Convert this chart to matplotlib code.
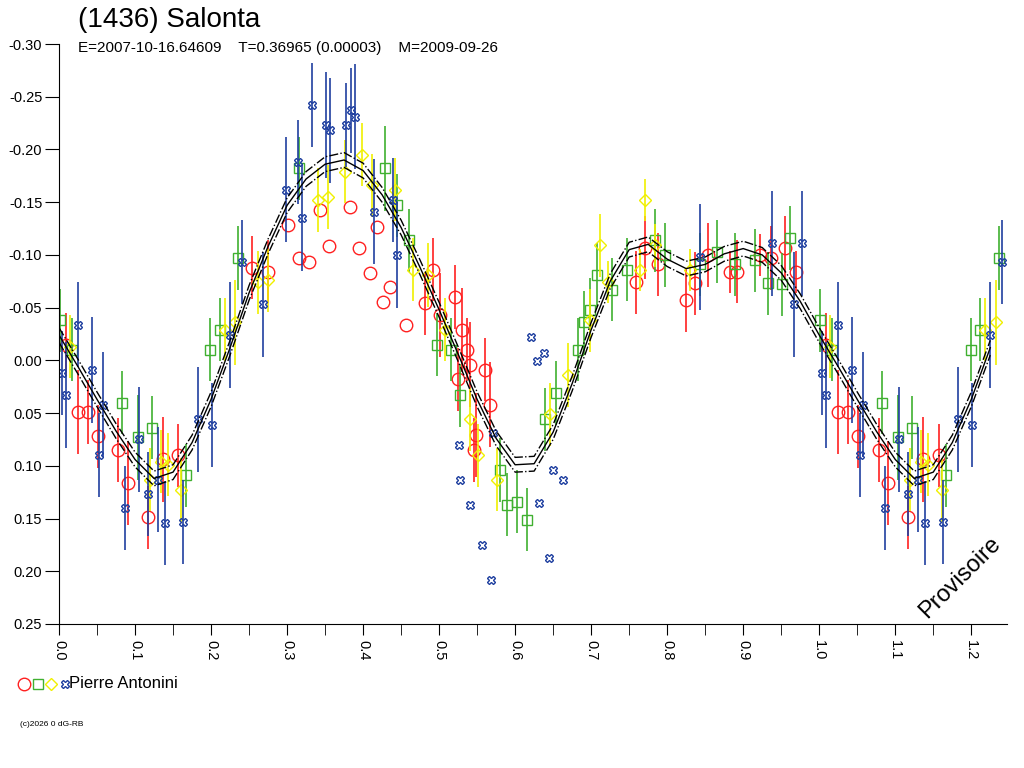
import matplotlib
matplotlib.use("Agg")
import matplotlib.pyplot as plt
import numpy as np

plt.rcParams['font.family'] = ['Liberation Sans', 'DejaVu Sans']

# fitted light curve (phase 0..1, step 0.025) and its uncertainty band
fit_phase = [i * 0.025 for i in range(41)]
fit_mag = [-0.024, 0.006, 0.037, 0.067, 0.094, 0.112, 0.106, 0.078, 0.037, -0.012,
           -0.064, -0.108, -0.147, -0.172, -0.186, -0.190, -0.180, -0.157, -0.126, -0.088,
           -0.048, -0.006, 0.037, 0.074, 0.099, 0.098, 0.068, 0.022, -0.029, -0.075,
           -0.105, -0.110, -0.096, -0.087, -0.091, -0.101, -0.106, -0.100, -0.083, -0.056,
           -0.024]
fit_band = 0.007

# observations (phase, magnitude, error) per session
red_ph = [0.009, 0.025, 0.038, 0.051, 0.078, 0.091, 0.117, 0.137, 0.157, 0.254, 0.275,
          0.301, 0.316, 0.329, 0.343, 0.355, 0.383, 0.395, 0.409, 0.418, 0.426, 0.436, 0.457,
          0.482, 0.492, 0.501, 0.521, 0.530, 0.537, 0.541, 0.525, 0.549, 0.561, 0.567, 0.546,
          0.759, 0.771, 0.788, 0.825, 0.837, 0.854, 0.883, 0.892, 0.922, 0.936, 0.955, 0.970]
red_mag = [-0.015, 0.049, 0.049, 0.072, 0.085, 0.116, 0.149, 0.094, 0.090, -0.088, -0.084,
           -0.128, -0.097, -0.093, -0.143, -0.108, -0.145, -0.107, -0.083, -0.126, -0.055, -0.070, -0.034,
           -0.054, -0.086, -0.043, -0.060, -0.029, -0.010, 0.004, 0.018, 0.071, 0.009, 0.042, 0.085,
           -0.074, -0.107, -0.091, -0.057, -0.073, -0.100, -0.084, -0.084, -0.100, -0.097, -0.107, -0.084]
red_err = [0.03, 0.04, 0.03, 0.03, 0.03, 0.04, 0.03, 0.04, 0.03, 0.03, 0.03,
           0, 0, 0, 0, 0, 0, 0, 0, 0, 0, 0, 0,
           0.03, 0.03, 0.04, 0.03, 0.04, 0.03, 0.04, 0.03, 0.04, 0.03, 0.04, 0.03,
           0.03, 0.03, 0.03, 0.03, 0.03, 0.03, 0.02, 0.03, 0.02, 0.03, 0.03, 0.02]

green_ph = [0.001, 0.017, 0.083, 0.104, 0.122, 0.167, 0.199, 0.212, 0.236, 0.316, 0.429, 0.445,
            0.461, 0.497, 0.516, 0.527, 0.580, 0.589, 0.603, 0.616, 0.639, 0.654, 0.683, 0.691,
            0.699, 0.708, 0.728, 0.747, 0.784, 0.797, 0.843, 0.866, 0.889, 0.916, 0.951, 0.933, 0.962]
green_mag = [-0.038, -0.010, 0.040, 0.073, 0.064, 0.109, -0.010, -0.029, -0.097, -0.182, -0.182, -0.147,
             -0.114, -0.015, -0.010, 0.033, 0.104, 0.137, 0.134, 0.151, 0.056, 0.031, -0.010, -0.036,
             -0.048, -0.081, -0.067, -0.086, -0.114, -0.100, -0.091, -0.103, -0.091, -0.095, -0.072, -0.073, -0.116]
green_err = [0.03, 0.03, 0.03, 0.04, 0.03, 0.03, 0.03, 0.03, 0.03, 0.03, 0.04, 0.03,
             0.03, 0.03, 0.03, 0.03, 0.03, 0.03, 0.03, 0.03, 0.03, 0.03, 0.03, 0.03,
             0.03, 0.03, 0.03, 0.03, 0.03, 0.03, 0.03, 0.03, 0.03, 0.03, 0.03, 0.03, 0.03]

yellow_ph = [0.014, 0.120, 0.134, 0.143, 0.161, 0.218, 0.232, 0.262, 0.275, 0.341, 0.354, 0.376,
             0.399, 0.412, 0.442, 0.466, 0.486, 0.508, 0.541, 0.551, 0.576, 0.646, 0.670, 0.699,
             0.712, 0.722, 0.764, 0.771, 0.784, 0.830]
yellow_mag = [-0.013, 0.113, 0.096, 0.099, 0.123, -0.029, -0.036, -0.074, -0.076, -0.152, -0.155, -0.179,
              -0.195, -0.166, -0.162, -0.086, -0.081, -0.029, 0.056, 0.090, 0.113, 0.051, 0.014, -0.038,
              -0.109, -0.074, -0.086, -0.152, -0.109, -0.086]
yellow_err = [0.03, 0.03, 0.03, 0.03, 0.03, 0.03, 0.04, 0.03, 0.03, 0.03, 0.03, 0.03,
              0.03, 0.03, 0.03, 0.03, 0.03, 0.03, 0.03, 0.03, 0.03, 0.03, 0.03, 0.03,
              0.03, 0.02, 0.02, 0.02, 0.02, 0.02]

blue_ph = [0.004, 0.009, 0.025, 0.043, 0.053, 0.058, 0.087, 0.105, 0.117, 0.130, 0.139, 0.163,
           0.183, 0.201, 0.225, 0.241, 0.268, 0.299, 0.314, 0.320, 0.333, 0.351, 0.357, 0.378,
           0.384, 0.389, 0.414, 0.439, 0.445, 0.526, 0.527, 0.541, 0.557, 0.568, 0.571, 0.621,
           0.629, 0.638, 0.632, 0.650, 0.645, 0.663, 0.843, 0.938, 0.967, 0.978]
blue_mag = [0.012, 0.033, -0.034, 0.009, 0.090, 0.042, 0.140, 0.075, 0.127, 0.113, 0.154, 0.153,
            0.056, 0.061, -0.024, -0.093, -0.053, -0.162, -0.188, -0.135, -0.242, -0.223, -0.218, -0.223,
            -0.237, -0.231, -0.141, -0.152, -0.100, 0.080, 0.113, 0.137, 0.175, 0.208, 0.069, -0.022,
            0.001, -0.007, 0.135, 0.104, 0.187, 0.113, -0.098, -0.111, -0.053, -0.111]
blue_err = [0.04, 0.05, 0.04, 0.05, 0.04, 0.05, 0.04, 0.05, 0.04, 0.05, 0.04, 0.04,
            0.05, 0.04, 0.05, 0.04, 0.05, 0.05, 0.04, 0.05, 0.04, 0.05, 0.05, 0.04,
            0.04, 0.05, 0.05, 0.04, 0.05, 0, 0, 0, 0, 0, 0, 0,
            0, 0, 0, 0, 0, 0, 0.05, 0.05, 0.05, 0.05]

x_max = 1.247


def repeat(ph, mag, err=None):
    # data below phase x_max-1 is shown again after phase 1.0
    ph = np.array(ph)
    mag = np.array(mag)
    extra = ph < x_max - 1
    ph2 = np.concatenate([ph, ph[extra] + 1])
    mag2 = np.concatenate([mag, mag[extra]])
    if err is None:
        return ph2, mag2
    err = np.array(err)
    return ph2, mag2, np.concatenate([err, err[extra]])


fig = plt.figure(figsize=(10.24, 7.68), dpi=100)
ax = fig.add_axes([59 / 1024, 1 - 624 / 768, (1007 - 59) / 1024, 580 / 768])

series = [
    (red_ph, red_mag, red_err, 'o', '#ff2020', 9),
    (green_ph, green_mag, green_err, 's', '#40b030', 7),
    (yellow_ph, yellow_mag, yellow_err, 'D', '#f0f000', 6),
    (blue_ph, blue_mag, blue_err, 'X', '#2040a0', 6),
]
for ph, mag, err, mk, col, ms in series:
    p, m, e = repeat(ph, mag, err)
    ax.vlines(p, m - e, m + e, color=col, lw=1.2)
    ax.plot(p, m, mk, ms=ms, mfc='none', mec=col, mew=1, ls='none')

fp, fm = repeat(fit_phase[:-1], fit_mag[:-1])
order = np.argsort(fp)
fp, fm = fp[order], fm[order]
ax.plot(fp, fm, color='black', lw=1)
ax.plot(fp, fm - fit_band, color='black', lw=1, ls='-.')
ax.plot(fp, fm + fit_band, color='black', lw=1, ls='-.')

ax.set_xlim(0, x_max)
ax.set_ylim(0.25, -0.30)
for s in ['top', 'right']:
    ax.spines[s].set_visible(False)
yt = np.arange(-0.30, 0.2501, 0.05)
ax.set_yticks(yt)
ax.set_yticklabels(['%.2f' % v if abs(v) > 1e-9 else '0.00' for v in yt], fontsize=10.5)
ax.tick_params(axis='y', length=10, direction='out', pad=2)
ax.set_xticks(np.arange(0, 1.25, 0.1))
ax.set_xticks(np.arange(0.05, 1.25, 0.1), minor=True)
ax.set_xticklabels(['%.1f' % v for v in np.arange(0, 1.25, 0.1)], rotation=270, fontsize=10.5)
ax.tick_params(axis='x', which='both', length=8, direction='out')

fig.text(78 / 1024, 1 - 20 / 768, '(1436) Salonta', fontsize=20, va='center')
fig.text(78 / 1024, 1 - 48 / 768,
         'E=2007-10-16.64609    T=0.36965 (0.00003)    M=2009-09-26', fontsize=11, va='center')
fig.text(960 / 1024, 1 - 578 / 768, 'Provisoire', fontsize=17, rotation=45,
         ha='center', va='center')
fig.text(69 / 1024, 1 - 683 / 768, 'Pierre Antonini', fontsize=12, va='center')
for i, (_, _, _, mk, col, ms) in enumerate(series):
    fig.lines.append(plt.Line2D([(24 + i * 13.5) / 1024], [1 - 684 / 768], marker=mk, ms=ms,
                                mfc='none', mec=col, transform=fig.transFigure))
fig.text(20 / 1024, 1 - 725 / 768, '(c)2026 0 dG-RB', fontsize=6, va='center')

fig.savefig('out.png', dpi=100)
